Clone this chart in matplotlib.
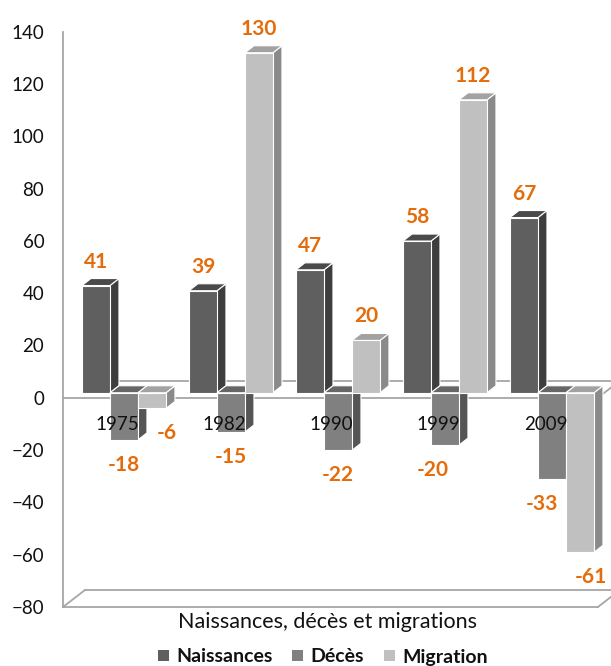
import numpy as np
import matplotlib.pyplot as plt
from matplotlib.patches import Polygon, Rectangle, Patch

plt.rcParams['font.family'] = ['Lato', 'DejaVu Sans']

# data
years = ['1975', '1982', '1990', '1999', '2009']
series = ['Naissances', 'Décès', 'Migration']
naissances = [41, 39, 47, 58, 67]
deces = [-18, -15, -22, -20, -33]
migration = [-6, 130, 20, 112, -61]

# colours: front, side, top
colors = {
    'Naissances': ('#5f5f5f', '#3e3e3e', '#4a4a4a'),
    'Décès': ('#808080', '#555555', '#666666'),
    'Migration': ('#c0c0c0', '#8a8a8a', '#a2a2a2'),
}
orange = '#e46c0a'
grid_gray = '#a6a6a6'

# pseudo 3D geometry, in data units (1 x unit = 107 px, 1 y unit = 2.615 px)
px_x, px_y = 107.0, 2.615
floor_dx, floor_dy = 22 / px_x, 17 / px_y   # depth of the floor planes
plane_dx, plane_dy = 6.5 / px_x, 5 / px_y   # bars sit a bit behind the front
bar_dx, bar_dy = 9 / px_x, 7 / px_y         # depth of one bar
width = 28 / px_x

# horizontal nudges (px) of a few value labels, as placed in the original
label_nudge = {('Migration', 0): 15, ('Décès', 3): -12,
               ('Décès', 4): -10, ('Migration', 4): 11}

fig = plt.figure(figsize=(6.11, 6.66), dpi=100)
ax = fig.add_axes([63 / 611, (666 - 607) / 666, 548 / 611, 575.4 / 666])
ax.set_xlim(-0.509, -0.509 + 548 / px_x)
ax.set_ylim(-80, 140)

for s in ['top', 'right', 'bottom']:
    ax.spines[s].set_visible(False)
ax.spines['left'].set_color(grid_gray)
ax.spines['left'].set_linewidth(1.3)
ax.set_xticks([])
ax.set_yticks(np.arange(-80, 141, 20))
ax.tick_params(axis='y', length=0, pad=13.5, labelsize=13.5, labelcolor='#111111')

# floor (-80) and zero plane
x_front0, x_front1 = -0.509, 4.49
for level, left_edge in [(-80, True), (0, False)]:
    ax.plot([x_front0 + floor_dx, x_front1 + floor_dx],
            [level + floor_dy] * 2, color=grid_gray, lw=1.3, clip_on=False, zorder=1)
    ax.plot([x_front0, x_front1], [level, level], color=grid_gray, lw=1.3,
            clip_on=False, zorder=1)
    ax.plot([x_front1, x_front1 + floor_dx], [level, level + floor_dy],
            color=grid_gray, lw=1.3, clip_on=False, zorder=1)
    if left_edge:
        ax.plot([x_front0, x_front0 + floor_dx], [level, level + floor_dy],
                color=grid_gray, lw=1.3, clip_on=False, zorder=1)


def bar3d(x0, v, name, z):
    front, side, top = colors[name]
    x0 = x0 + plane_dx
    lo = min(0, v) + plane_dy
    hi = max(0, v) + plane_dy
    ec = dict(edgecolor='white', linewidth=0.8, zorder=z)
    ax.add_patch(Polygon([(x0 + width, lo), (x0 + width, hi),
                          (x0 + width + bar_dx, hi + bar_dy),
                          (x0 + width + bar_dx, lo + bar_dy)],
                         facecolor=side, **ec))
    ax.add_patch(Polygon([(x0, hi), (x0 + width, hi),
                          (x0 + width + bar_dx, hi + bar_dy), (x0 + bar_dx, hi + bar_dy)],
                         facecolor=top, **ec))
    ax.add_patch(Rectangle((x0, lo), width, hi - lo, facecolor=front, **ec))


values = [naissances, deces, migration]
offsets = [-width, 0, width]
z = 2
for i in range(len(years)):
    for name, vals, off in zip(series, values, offsets):
        x0 = i + off - width / 2
        bar3d(x0, vals[i], name, z)
        z += 0.01

# value labels
for i in range(len(years)):
    for name, vals, off in zip(series, values, offsets):
        v = vals[i]
        xc = i + off + plane_dx + label_nudge.get((name, i), 0) / px_x
        if v >= 0:
            y = v + plane_dy + 24 / px_y
        else:
            y = v + plane_dy - 25 / px_y
        ax.text(xc, y, str(v), ha='center', va='center', color=orange,
                fontsize=15, fontweight='bold', zorder=10, clip_on=False)

# category labels
for i, yr in enumerate(years):
    ax.text(i, -27 / px_y, yr, ha='center', va='center', fontsize=13.5,
            color='#111111', zorder=10)

fig.text(327 / 611, 1 - 622 / 666, 'Naissances, décès et migrations',
         ha='center', va='center', fontsize=15.5, color='#111111')

handles = [Patch(facecolor=colors[n][0], edgecolor='none') for n in series]
leg = fig.legend(handles, series, loc='center', bbox_to_anchor=(323 / 611, 1 - 657 / 666),
                 ncol=3, frameon=False, fontsize=14, handlelength=0.55, handleheight=0.55,
                 handletextpad=0.4, columnspacing=1.0)
for t in leg.get_texts():
    t.set_fontweight('bold')
    t.set_color('#111111')

fig.savefig('out.png', dpi=100)
